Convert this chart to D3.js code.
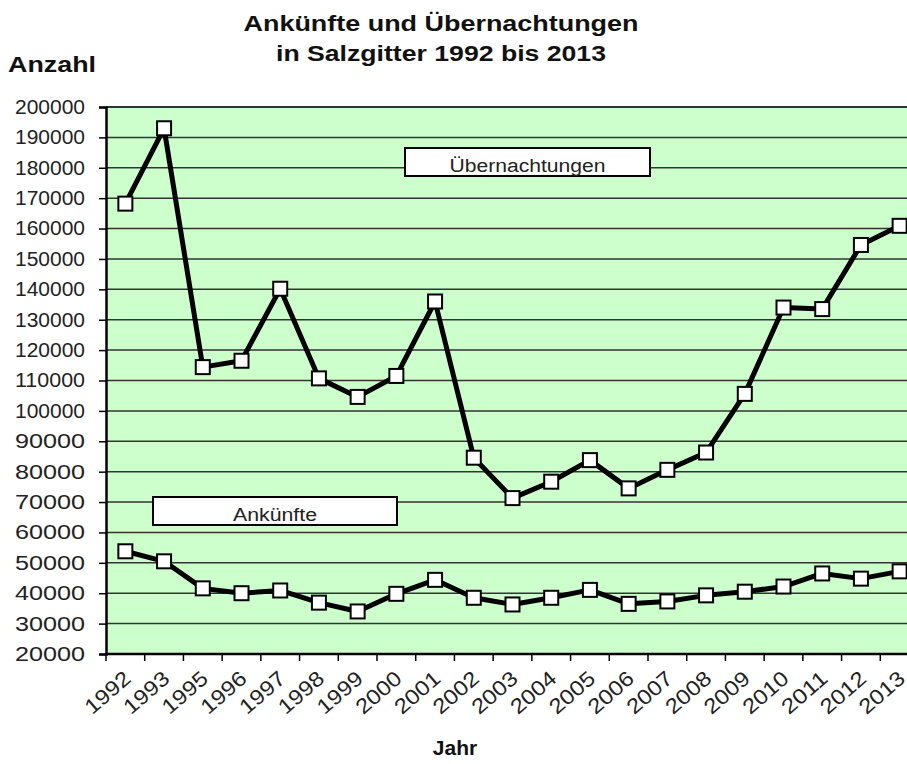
<!DOCTYPE html>
<html>
<head>
<meta charset="utf-8">
<script src="https://cdn.jsdelivr.net/npm/d3@7"></script>
<style>
  html, body { margin: 0; padding: 0; background: #fff; }
  svg { display: block; font-family: "Liberation Sans", Arial, sans-serif; }
</style>
</head>
<body>
<svg id="chart" width="907" height="764"></svg>
<script>
// Jahre (1994 fehlt in der Reihe)
const years = ["1992","1993","1995","1996","1997","1998","1999","2000","2001","2002","2003",
               "2004","2005","2006","2007","2008","2009","2010","2011","2012","2013"];

// Übernachtungen je Jahr
const uebernachtungen = [168200, 193000, 114400, 116500, 140200, 110700, 104600, 111500, 136000, 84600, 71300,
                         76700, 83800, 74500, 80600, 86300, 105600, 134000, 133500, 154600, 160900];

// Ankünfte je Jahr
const ankuenfte = [53800, 50500, 41600, 40000, 40900, 36900, 34000, 39800, 44400, 38500, 36300,
                   38500, 41100, 36500, 37300, 39300, 40500, 42200, 46500, 44800, 47200];

// Achsenbeschriftung der y-Achse
const yTicks = d3.range(20000, 200001, 10000);

const titleLines = ["Ankünfte und Übernachtungen", "in Salzgitter 1992 bis 2013"];

const svg = d3.select("#chart");

const plot = { left: 106, top: 107, right: 919, bottom: 654 };

const x = d3.scaleBand().domain(years).range([plot.left, plot.right]).padding(0);
const y = d3.scaleLinear().domain([20000, 200000]).range([plot.bottom, plot.top]);

// Hintergrund der Zeichenfläche
svg.append("rect")
  .attr("x", plot.left).attr("y", plot.top)
  .attr("width", plot.right - plot.left).attr("height", plot.bottom - plot.top)
  .attr("fill", "#ccffcc");

// Gitterlinien
svg.append("g")
  .selectAll("line")
  .data(yTicks.slice(1))
  .join("line")
  .attr("x1", plot.left).attr("x2", plot.right)
  .attr("y1", d => y(d)).attr("y2", d => y(d))
  .attr("stroke", "#333")
  .attr("stroke-width", d => d === 200000 ? 2 : 1.5);

// y-Achse
const yAxis = svg.append("g")
  .attr("transform", `translate(${plot.left},0)`)
  .call(d3.axisLeft(y).tickValues(yTicks).tickSize(7).tickPadding(14).tickFormat(d3.format("d")));
yAxis.select(".domain").attr("stroke", "#000").attr("stroke-width", 2.5);
yAxis.selectAll(".tick line").attr("stroke", "#000").attr("stroke-width", 1.5);
yAxis.selectAll(".tick text")
  .attr("font-size", 20).attr("fill", "#222")
  .attr("font-family", "Liberation Sans, Arial, sans-serif")
  .attr("textLength", 70).attr("lengthAdjust", "spacingAndGlyphs");

// x-Achse: Striche an den Kategoriegrenzen
const xg = svg.append("g");
xg.append("line")
  .attr("x1", plot.left).attr("x2", plot.right)
  .attr("y1", plot.bottom).attr("y2", plot.bottom)
  .attr("stroke", "#000").attr("stroke-width", 2.5);
xg.selectAll("line.tick")
  .data(years.concat(["end"]))
  .join("line")
  .attr("class", "tick")
  .attr("x1", (d, i) => plot.left + i * x.bandwidth())
  .attr("x2", (d, i) => plot.left + i * x.bandwidth())
  .attr("y1", plot.bottom).attr("y2", plot.bottom + 7)
  .attr("stroke", "#000").attr("stroke-width", 1.5);
xg.selectAll("text")
  .data(years)
  .join("text")
  .attr("transform", d => `translate(${x(d) + x.bandwidth() / 2 + 2},${plot.bottom + 21}) rotate(-41)`)
  .attr("text-anchor", "end")
  .attr("dy", "0.35em")
  .attr("font-size", 21)
  .attr("fill", "#222")
  .attr("textLength", 53).attr("lengthAdjust", "spacingAndGlyphs")
  .text(d => d);

// Linien und Markierungen
const line = d3.line()
  .x((d, i) => x(years[i]) + x.bandwidth() / 2)
  .y(d => y(d));

[uebernachtungen, ankuenfte].forEach(series => {
  svg.append("path")
    .datum(series)
    .attr("d", line)
    .attr("fill", "none")
    .attr("stroke", "#000")
    .attr("stroke-width", 5)
    .attr("stroke-linejoin", "round");
  svg.append("g")
    .selectAll("rect")
    .data(series)
    .join("rect")
    .attr("x", (d, i) => x(years[i]) + x.bandwidth() / 2 - 7)
    .attr("y", d => y(d) - 7)
    .attr("width", 14).attr("height", 14)
    .attr("fill", "#fff")
    .attr("stroke", "#000")
    .attr("stroke-width", 2);
});

// Beschriftungsfelder der beiden Reihen
const labels = [
  { text: "Übernachtungen", x: 405, y: 148, w: 245, h: 28, len: 156 },
  { text: "Ankünfte", x: 153, y: 497, w: 244, h: 28, len: 84 }
];
labels.forEach(l => {
  svg.append("rect")
    .attr("x", l.x).attr("y", l.y).attr("width", l.w).attr("height", l.h)
    .attr("fill", "#fff").attr("stroke", "#000").attr("stroke-width", 2);
  svg.append("text")
    .attr("x", l.x + l.w / 2).attr("y", l.y + l.h - 4)
    .attr("text-anchor", "middle")
    .attr("font-size", 18).attr("fill", "#222")
    .attr("textLength", l.len).attr("lengthAdjust", "spacingAndGlyphs")
    .text(l.text);
});

// Titel
const titleLen = [395, 330];
svg.append("g")
  .selectAll("text")
  .data(titleLines)
  .join("text")
  .attr("x", 441)
  .attr("y", (d, i) => 31 + i * 30)
  .attr("text-anchor", "middle")
  .attr("font-size", 22)
  .attr("font-weight", "bold")
  .attr("fill", "#111")
  .attr("textLength", (d, i) => titleLen[i]).attr("lengthAdjust", "spacingAndGlyphs")
  .text(d => d);

// Achsentitel
svg.append("text")
  .attr("x", 8).attr("y", 72)
  .attr("font-size", 22).attr("font-weight", "bold").attr("fill", "#111")
  .attr("textLength", 88).attr("lengthAdjust", "spacingAndGlyphs")
  .text("Anzahl");

svg.append("text")
  .attr("x", 455).attr("y", 755)
  .attr("text-anchor", "middle")
  .attr("font-size", 21).attr("font-weight", "bold").attr("fill", "#111")
  .text("Jahr");
</script>
</body>
</html>
